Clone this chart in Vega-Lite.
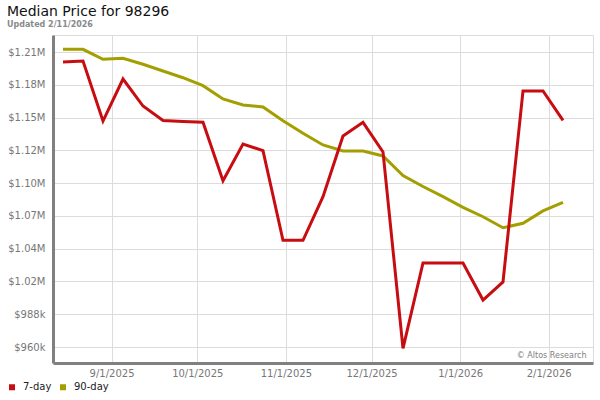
{
  "$schema": "https://vega.github.io/schema/vega-lite/v6.json",
  "width": 540,
  "height": 328,
  "autosize": {"type": "none"},
  "padding": {"left": 53, "top": 35, "right": 7, "bottom": 37},
  "background": "white",
  "title": {
    "text": "Median Price for 98296",
    "subtitle": "Updated 2/11/2026",
    "anchor": "start",
    "frame": "group",
    "dx": -46,
    "offset": 6,
    "font": "DejaVu Sans",
    "fontSize": 14,
    "fontWeight": "normal",
    "color": "#111111",
    "subtitleFont": "DejaVu Sans",
    "subtitleFontSize": 8,
    "subtitleFontWeight": "bold",
    "subtitleColor": "#8a8a8a",
    "subtitlePadding": 2
  },
  "data": {
    "values": [
      {"date": "2025-08-15", "series": "7-day", "price": 1201500},
      {"date": "2025-08-22", "series": "7-day", "price": 1202400},
      {"date": "2025-08-29", "series": "7-day", "price": 1151500},
      {"date": "2025-09-05", "series": "7-day", "price": 1187100},
      {"date": "2025-09-12", "series": "7-day", "price": 1164200},
      {"date": "2025-09-19", "series": "7-day", "price": 1152000},
      {"date": "2025-09-26", "series": "7-day", "price": 1151100},
      {"date": "2025-10-03", "series": "7-day", "price": 1150400},
      {"date": "2025-10-10", "series": "7-day", "price": 1100900},
      {"date": "2025-10-17", "series": "7-day", "price": 1132000},
      {"date": "2025-10-24", "series": "7-day", "price": 1126400},
      {"date": "2025-10-31", "series": "7-day", "price": 1050400},
      {"date": "2025-11-07", "series": "7-day", "price": 1050400},
      {"date": "2025-11-14", "series": "7-day", "price": 1087400},
      {"date": "2025-11-21", "series": "7-day", "price": 1138800},
      {"date": "2025-11-28", "series": "7-day", "price": 1150400},
      {"date": "2025-12-05", "series": "7-day", "price": 1125300},
      {"date": "2025-12-12", "series": "7-day", "price": 958900},
      {"date": "2025-12-19", "series": "7-day", "price": 1031200},
      {"date": "2025-12-26", "series": "7-day", "price": 1031200},
      {"date": "2026-01-02", "series": "7-day", "price": 1031200},
      {"date": "2026-01-09", "series": "7-day", "price": 999800},
      {"date": "2026-01-16", "series": "7-day", "price": 1015100},
      {"date": "2026-01-23", "series": "7-day", "price": 1177000},
      {"date": "2026-01-30", "series": "7-day", "price": 1177000},
      {"date": "2026-02-06", "series": "7-day", "price": 1152100},
      {"date": "2025-08-15", "series": "90-day", "price": 1212300},
      {"date": "2025-08-22", "series": "90-day", "price": 1212300},
      {"date": "2025-08-29", "series": "90-day", "price": 1203800},
      {"date": "2025-09-05", "series": "90-day", "price": 1204700},
      {"date": "2025-09-12", "series": "90-day", "price": 1199600},
      {"date": "2025-09-19", "series": "90-day", "price": 1193900},
      {"date": "2025-09-26", "series": "90-day", "price": 1188200},
      {"date": "2025-10-03", "series": "90-day", "price": 1181500},
      {"date": "2025-10-10", "series": "90-day", "price": 1170200},
      {"date": "2025-10-17", "series": "90-day", "price": 1165100},
      {"date": "2025-10-24", "series": "90-day", "price": 1163400},
      {"date": "2025-10-31", "series": "90-day", "price": 1151800},
      {"date": "2025-11-07", "series": "90-day", "price": 1141100},
      {"date": "2025-11-14", "series": "90-day", "price": 1131200},
      {"date": "2025-11-21", "series": "90-day", "price": 1126100},
      {"date": "2025-11-28", "series": "90-day", "price": 1126100},
      {"date": "2025-12-05", "series": "90-day", "price": 1121900},
      {"date": "2025-12-12", "series": "90-day", "price": 1105300},
      {"date": "2025-12-19", "series": "90-day", "price": 1096000},
      {"date": "2025-12-26", "series": "90-day", "price": 1087400},
      {"date": "2026-01-02", "series": "90-day", "price": 1078400},
      {"date": "2026-01-09", "series": "90-day", "price": 1070400},
      {"date": "2026-01-16", "series": "90-day", "price": 1061100},
      {"date": "2026-01-23", "series": "90-day", "price": 1064800},
      {"date": "2026-01-30", "series": "90-day", "price": 1075300},
      {"date": "2026-02-06", "series": "90-day", "price": 1082600}
    ]
  },
  "encoding": {
    "x": {
      "field": "date",
      "type": "temporal",
      "scale": {
        "type": "utc",
        "nice": false,
        "domain": [
          {"year": 2025, "month": 8, "date": 11, "hours": 12, "utc": true},
          {"year": 2026, "month": 2, "date": 16, "hours": 12, "utc": true}
        ]
      },
      "axis": {
        "values": [
          {"year": 2025, "month": 9, "date": 1, "utc": true},
          {"year": 2025, "month": 10, "date": 1, "utc": true},
          {"year": 2025, "month": 11, "date": 1, "utc": true},
          {"year": 2025, "month": 12, "date": 1, "utc": true},
          {"year": 2026, "month": 1, "date": 1, "utc": true},
          {"year": 2026, "month": 2, "date": 1, "utc": true}
        ],
        "format": "%-m/%-d/%Y",
        "ticks": false,
        "labelPadding": 5,
        "labelFontSize": 10,
        "labelColor": "#777777",
        "domainColor": "#808080",
        "domainWidth": 3,
        "gridColor": "#dcdcdc",
        "labelFlush": false,
        "title": "© Altos Research",
        "titleAnchor": "end",
        "titleAlign": "right",
        "titleBaseline": "alphabetic",
        "titleX": 533,
        "titleY": -6,
        "titleFontSize": 8,
        "titleFontWeight": "normal",
        "titleColor": "#808080"
      }
    },
    "y": {
      "field": "price",
      "type": "quantitative",
      "scale": {"zero": false, "nice": false, "domain": [946441, 1224407]},
      "axis": {
        "values": [960000, 987778, 1015556, 1043333, 1071111, 1098889, 1126667, 1154444, 1182222, 1210000],
        "labelExpr": "datum.value < 1000000 ? '$' + format(datum.value / 1000, '.0f') + 'k' : (abs(datum.value - 1126667) < 10 ? '$1.12M' : '$' + format(datum.value / 1000000, '.2f') + 'M')",
        "ticks": false,
        "labelPadding": 8,
        "labelFontSize": 10,
        "labelColor": "#777777",
        "domainColor": "#808080",
        "domainWidth": 3,
        "gridColor": "#dcdcdc",
        "title": null
      }
    },
    "color": {
      "field": "series",
      "type": "nominal",
      "scale": {"domain": ["7-day", "90-day"], "range": ["#c80d12", "#a39f00"]},
      "legend": {
        "title": null,
        "orient": "none",
        "direction": "horizontal",
        "legendX": -46,
        "legendY": 347,
        "symbolType": "square",
        "symbolSize": 9,
        "symbolStrokeWidth": 3,
        "labelFontSize": 10,
        "labelColor": "#222222",
        "labelOffset": 6,
        "columnPadding": 3
      }
    }
  },
  "layer": [
    {
      "transform": [{"filter": "datum.series === '90-day'"}],
      "mark": {"type": "line", "strokeWidth": 3}
    },
    {
      "transform": [{"filter": "datum.series === '7-day'"}],
      "mark": {"type": "line", "strokeWidth": 3}
    }
  ],
  "config": {
    "font": "DejaVu Sans",
    "view": {"stroke": "#dcdcdc"},
    "axis": {"gridColor": "#dcdcdc", "gridWidth": 1}
  }
}
